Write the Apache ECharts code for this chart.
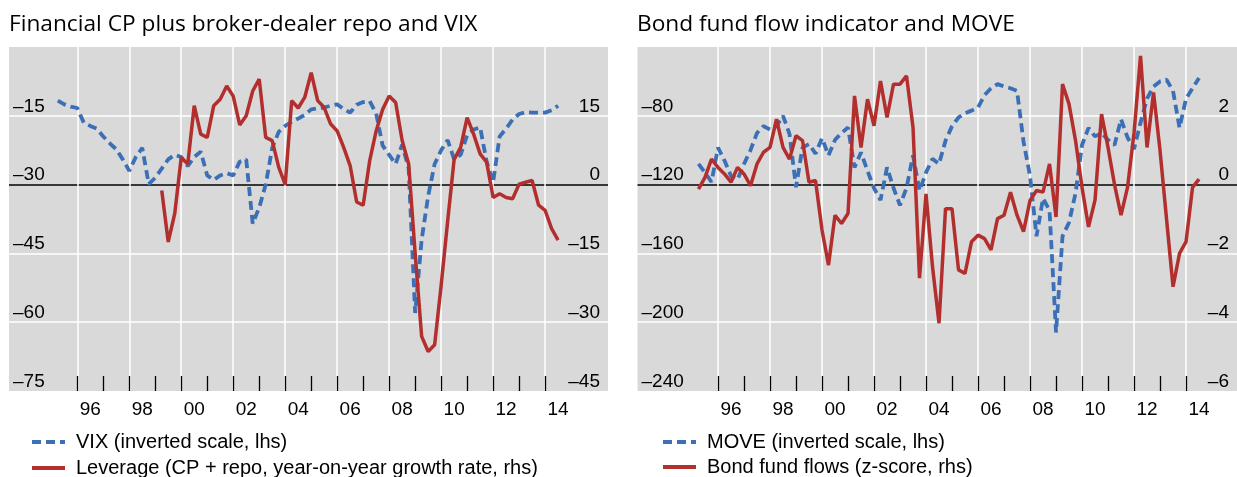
<!DOCTYPE html>
<html>
<head>
<meta charset="utf-8">
<script src="https://cdn.jsdelivr.net/npm/echarts@6/dist/echarts.min.js"></script>
<style>
  html, body { margin: 0; padding: 0; background: #fff; }
  #chart { width: 1237px; height: 477px; }
</style>
</head>
<body>
<div id="chart"></div>
<script>
// quarterly readings, first point at the given decimal year
var vixStart = 1995.25;
var vix = [-11.7, -12.5, -13.0,
  -13.3, -16.5, -17.2, -17.8,
  -19.5, -21.0, -22.3, -24.5,
  -27.0, -24.0, -22.0, -29.9,
  -28.5, -26.5, -24.5, -23.5,
  -24.0, -26.0, -24.0, -22.8,
  -28.0, -29.0, -28.0, -27.5,
  -28.0, -25.0, -24.5, -38.5,
  -35.0, -30.0, -22.0, -18.5,
  -17.2, -16.3, -15.6, -14.8,
  -13.6, -13.4, -13.2, -12.8,
  -12.5, -13.5, -14.3, -12.6,
  -12.0, -11.8, -14.5, -21.5,
  -23.5, -25.5, -21.3, -26.5,
  -58.0, -42.0, -32.5, -25.5,
  -22.5, -20.3, -24.5, -23.5,
  -19.2, -18.0, -17.5, -25.0,
  -29.5, -19.5, -17.8, -15.8,
  -14.6, -14.2, -14.3, -14.3,
  -14.3, -13.8, -12.8];

var levStart = 1999.25;
var leverage = [-1.3, -12.5, -6.3,
  5.9, 4.5, 17.2, 11.0,
  10.3, 17.2, 18.6, 21.5,
  19.3, 13.0, 15.0, 20.4,
  23.0, 10.3, 9.6, 3.8,
  0.0, 18.3, 16.7, 19.0,
  24.4, 18.3, 16.8, 13.2,
  11.7, 8.1, 4.1, -3.8,
  -4.5, 5.2, 11.7, 16.4,
  19.3, 17.9, 9.6, 4.5,
  -15.0, -33.1, -36.4, -34.9,
  -22.0, -8.0, 5.5, 8.1,
  14.6, 11.0, 6.7, 4.9,
  -2.8, -2.0, -2.8, -3.1,
  0.1, 0.5, 0.9, -4.5,
  -5.6, -9.6, -12.1];

var moveStart = 1995.25;
var move = [-108, -113, -118.5,
  -98.5, -106, -115, -117,
  -108, -100, -90, -86,
  -88, -86, -80, -90.6,
  -121.5, -98.4, -96.4, -102,
  -93, -103, -94, -90,
  -86.8, -110, -101.3, -112,
  -122, -129, -110, -122,
  -132, -122, -103, -123.5,
  -113, -105, -108, -94.5,
  -86, -81, -78.5, -77,
  -75.2, -68, -64, -61.6,
  -63, -64, -65.5, -95,
  -115, -150, -128, -135,
  -206, -150, -142, -125,
  -97, -87, -92, -90,
  -94, -97, -82, -92.6,
  -99.3, -84, -70, -63,
  -60, -59, -65.5, -87,
  -70, -64, -58];

var flowStart = 1995.25;
var flows = [-0.13, 0.21, 0.74,
  0.5, 0.31, 0.07, 0.5,
  0.31, -0.03, 0.6, 0.94,
  1.08, 1.9, 1.08, 0.74,
  1.42, 1.28, 0.07, 0.12,
  -1.32, -2.34, -0.89, -1.13,
  -0.84, 2.58, 1.08, 2.48,
  1.71, 3.01, 1.95, 2.92,
  2.92, 3.16, 1.66, -2.72,
  -0.27, -2.39, -4.03, -0.7,
  -0.7, -2.48, -2.58, -1.66,
  -1.47, -1.57, -1.9, -0.99,
  -0.89, -0.22, -0.89, -1.37,
  -0.46, -0.17, -0.22, 0.6,
  -0.94, 2.92, 2.34, 1.28,
  -0.08, -1.23, -0.45, 2.05,
  1.08, 0.0, -0.89, -0.08,
  1.5, 3.74, 1.08, 2.68,
  0.99, -1.0, -2.97, -2.0,
  -1.66, -0.08, 0.16];

var tickYears = [1996, 1997, 1998, 1999, 2000, 2001, 2002, 2003, 2004, 2005,
  2006, 2007, 2008, 2009, 2010, 2011, 2012, 2013, 2014];
var gridYears = [1996, 1998, 2000, 2002, 2004, 2006, 2008, 2010, 2012, 2014];
var yearLabels = ['96', '98', '00', '02', '04', '06', '08', '10', '12', '14'];

var RED = '#b32f2e';
var BLUE = '#3b6fb6';
var BG = '#d9d9d9';

function toPairs(start, vals) {
  return vals.map(function (v, i) { return [start + i * 0.25, v]; });
}
function fmt(v) {
  return v < 0 ? '\u2013' + Math.abs(v) : String(v);
}
var labelPos = gridYears.map(function (y) { return y + 0.5; });
function yearFmt(v) {
  var i = labelPos.indexOf(v);
  return i >= 0 ? yearLabels[i] : '';
}

var chart = echarts.init(document.getElementById('chart'));

function xAxes(g, min, max) {
  return [{
    type: 'value', gridIndex: g, min: min, max: max, position: 'bottom',
    axisLine: { show: false, onZero: false },
    axisTick: { show: true, inside: true, length: 15, customValues: tickYears,
      lineStyle: { color: '#000', width: 1.3 } },
    axisLabel: { customValues: labelPos, formatter: yearFmt, margin: 9,
      fontSize: 19, color: '#000', fontFamily: 'Liberation Sans' },
    splitLine: { show: false }
  }, {
    type: 'value', gridIndex: g, min: min, max: max, position: 'bottom',
    axisLine: { show: false, onZero: false },
    axisTick: { show: false, customValues: gridYears },
    axisLabel: { show: false },
    splitLine: { show: true, lineStyle: { color: '#fff', width: 1.5 } }
  }];
}

function yAxis(g, pos, min, max, step, lines) {
  return {
    type: 'value', gridIndex: g, position: pos, min: min, max: max, interval: step,
    axisLine: { show: false, onZero: false }, axisTick: { show: false },
    axisLabel: { inside: true, showMaxLabel: false, verticalAlign: 'bottom',
      margin: pos === 'left' ? 4 : 8, fontSize: 19, color: '#000',
      fontFamily: 'Liberation Sans', formatter: fmt },
    splitLine: lines ? { show: true, showMinLine: false, showMaxLine: false,
      lineStyle: { color: ['#fff', '#fff', '#000', '#fff'], width: 1.5 } } : { show: false }
  };
}

var legendText = { fontSize: 20, color: '#000', fontFamily: 'Liberation Sans',
  padding: [0, 0, 0, 6] };

// one legend per row so nothing wraps into columns
function legend(left, top, name) {
  return { left: left, top: top, orient: 'vertical', padding: 0,
    itemWidth: 33, itemHeight: 14,
    itemStyle: { opacity: 0 }, lineStyle: { width: 4 },
    data: [name], textStyle: legendText };
}

chart.setOption({
  animation: false,
  title: [
    { text: 'Financial CP plus broker-dealer repo and VIX', left: 9, top: 13, padding: 0,
      textStyle: { fontSize: 22.7, fontWeight: 'normal', color: '#000', fontFamily: 'Open Sans' } },
    { text: 'Bond fund flow indicator and MOVE', left: 637, top: 13, padding: 0,
      textStyle: { fontSize: 22.7, fontWeight: 'normal', color: '#000', fontFamily: 'Open Sans' } }
  ],
  legend: [
    legend(30, 432, 'VIX (inverted scale, lhs)'),
    legend(30, 458, 'Leverage (CP + repo, year-on-year growth rate, rhs)'),
    legend(661, 432, 'MOVE (inverted scale, lhs)'),
    legend(661, 457, 'Bond fund flows (z-score, rhs)')
  ],
  grid: [
    { left: 9, top: 47, width: 599, height: 344, show: true, backgroundColor: BG, borderWidth: 0 },
    { left: 637.5, top: 47, width: 599.5, height: 344, show: true, backgroundColor: BG, borderWidth: 0 }
  ],
  xAxis: xAxes(0, 1993.373, 2016.42).concat(xAxes(1, 1992.904, 2015.96)),
  yAxis: [
    yAxis(0, 'left', -75, 0, 15, true),
    yAxis(0, 'right', -45, 30, 15, false),
    yAxis(1, 'left', -240, -40, 40, true),
    yAxis(1, 'right', -6, 4, 2, false)
  ],
  series: [
    { name: 'VIX (inverted scale, lhs)', type: 'line', xAxisIndex: 0, yAxisIndex: 0,
      data: toPairs(vixStart, vix), symbol: 'none', z: 3,
      lineStyle: { color: BLUE, width: 3.8, type: [9, 5] }, itemStyle: { color: BLUE } },
    { name: 'Leverage (CP + repo, year-on-year growth rate, rhs)', type: 'line', xAxisIndex: 0, yAxisIndex: 1,
      data: toPairs(levStart, leverage), symbol: 'none', z: 4,
      lineStyle: { color: RED, width: 3.5 }, itemStyle: { color: RED } },
    { name: 'MOVE (inverted scale, lhs)', type: 'line', xAxisIndex: 2, yAxisIndex: 2,
      data: toPairs(moveStart, move), symbol: 'none', z: 3,
      lineStyle: { color: BLUE, width: 3.8, type: [9, 5] }, itemStyle: { color: BLUE } },
    { name: 'Bond fund flows (z-score, rhs)', type: 'line', xAxisIndex: 2, yAxisIndex: 3,
      data: toPairs(flowStart, flows), symbol: 'none', z: 4,
      lineStyle: { color: RED, width: 3.5 }, itemStyle: { color: RED } }
  ]
});
</script>
</body>
</html>
